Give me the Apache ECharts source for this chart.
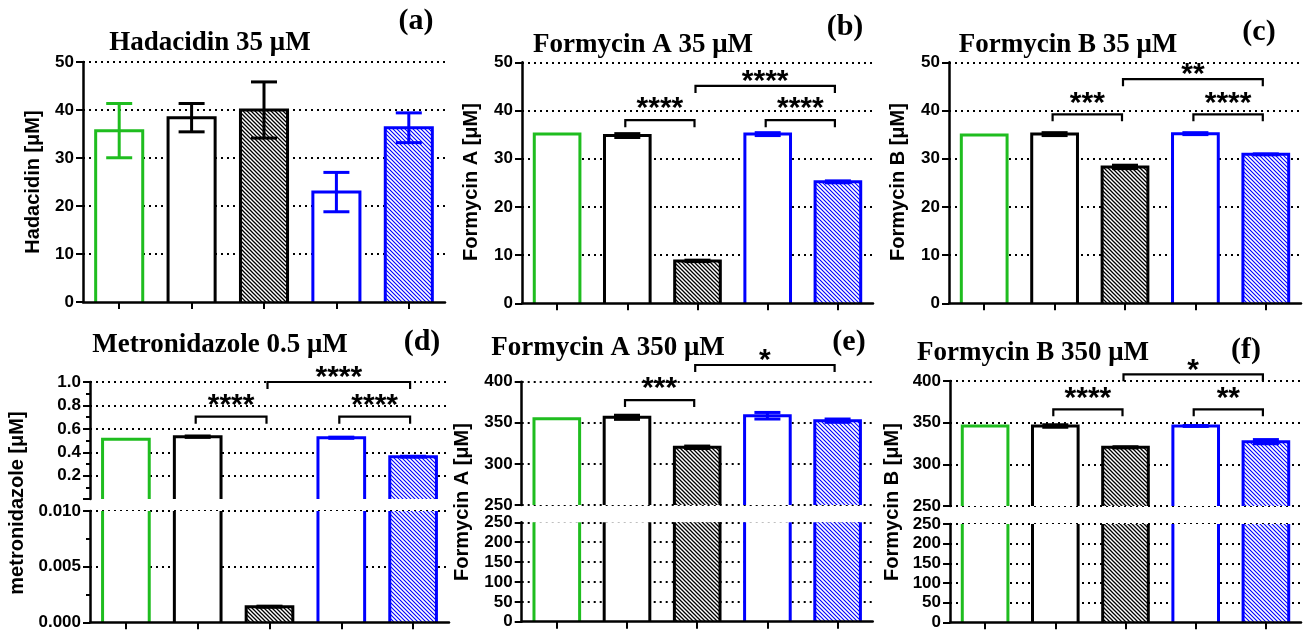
<!DOCTYPE html>
<html><head><meta charset="utf-8">
<script src="https://cdn.jsdelivr.net/npm/echarts@6/dist/echarts.min.js"></script>
<style>html,body{margin:0;padding:0;background:#fff}#c{width:1304px;height:634px}</style>
</head><body><div id="c"></div>
<script>
// ---------- data ----------
const categories = ['1', '2', '3', '4', '5'];

const hadacidinMean = [35.7, 38.4, 40.0, 22.9, 36.3];
const hadacidinSD   = [5.65, 2.95, 5.85, 4.1, 3.1];
const formycinA35Mean = [35.1, 34.8, 8.8, 35.1, 25.2];
const formycinA35SD   = [0, 0.4, 0.15, 0.3, 0.2];
const formycinB35Mean = [34.9, 35.1, 28.3, 35.2, 30.9];
const formycinB35SD   = [0, 0.3, 0.35, 0.2, 0.1];
const metronidazoleMean = [0.511, 0.533, 0.0014, 0.524, 0.362];
const metronidazoleSD   = [0, 0.006, 0.00005, 0.005, 0.004];
const formycinA350Mean = [355.0, 356.7, 320.2, 358.6, 352.6];
const formycinA350SD   = [0, 2.5, 1.5, 4, 2];
const formycinB350Mean = [346.0, 346.0, 320.4, 346.0, 327.2];
const formycinB350SD   = [0, 1.5, 0.7, 0.5, 2.5];

// significance brackets: [fromIndex, toIndex, level, label]
const bracketsA = [];
const bracketsB = [[1, 2, 38.0, '****'], [3, 4, 38.0, '****'], [2, 4, 45.1, '****']];
const bracketsC = [[1, 2, 39.2, '***'], [3, 4, 39.2, '****'], [2, 4, 46.5, '**']];
const bracketsD = [[1, 2, 0.704, '****'], [3, 4, 0.704, '****'], [2, 4, 1.0, '****']];
const bracketsE = [[1, 2, 377.7, '***'], [2, 4, 420.3, '*']];
const bracketsF = [[1, 2, 366, '****'], [3, 4, 366, '**'], [2, 4, 408, '*']];

// axis ranges: [min, max, interval]
const axisA = [0, 50, 10];
const axisB = [0, 50, 10];
const axisC = [0, 50, 10];
const axisDUpper = [0, 1, 0.2];
const axisDLower = [0, 0.01, 0.005];
const axisEUpper = [250, 400, 50];
const axisELower = [0, 250, 50];
const axisFUpper = [250, 400, 50];
const axisFLower = [0, 250, 50];

const titles = ['Hadacidin 35 μM', 'Formycin A 35 μM', 'Formycin B 35 μM',
                'Metronidazole 0.5 μM', 'Formycin A 350 μM', 'Formycin B 350 μM'];
const panelLabels = ['(a)', '(b)', '(c)', '(d)', '(e)', '(f)'];
const yNames = ['Hadacidin [μM]', 'Formycin A [μM]', 'Formycin B [μM]',
                'metronidazole [μM]', 'Formycin A [μM]', 'Formycin B [μM]'];

// ---------- styles ----------
const GREEN = '#1fbd1f', BLACK = '#000000', BLUE = '#0000ff';
const barColors = [GREEN, BLACK, BLACK, BLUE, BLUE];
const hatched = [false, false, true, false, true];

function makeHatch(color, lw) {
  const p = 4, c = document.createElement('canvas');
  c.width = p; c.height = p;
  const g = c.getContext('2d');
  g.fillStyle = '#fff'; g.fillRect(0, 0, p, p);
  g.strokeStyle = color; g.lineWidth = lw;
  g.beginPath();
  g.moveTo(-1, -1); g.lineTo(p + 1, p + 1);
  g.moveTo(-1, p - 1); g.lineTo(1, p + 1);
  g.moveTo(p - 1, -1); g.lineTo(p + 1, 1);
  g.stroke();
  return c;
}
const hatchBlack = {image: makeHatch(BLACK, 1.3), repeat: 'repeat'};
const hatchBlue = {image: makeHatch(BLUE, 1.1), repeat: 'repeat'};

const panels = [
  {mean: hadacidinMean, sd: hadacidinSD, brackets: bracketsA,
   segs: [{rect: [83, 62, 362, 240], range: axisA}]},
  {mean: formycinA35Mean, sd: formycinA35SD, brackets: bracketsB,
   segs: [{rect: [522, 62.3, 351, 241], range: axisB}]},
  {mean: formycinB35Mean, sd: formycinB35SD, brackets: bracketsC,
   segs: [{rect: [949, 62.3, 352, 241], range: axisC}]},
  {mean: metronidazoleMean, sd: metronidazoleSD, brackets: bracketsD,
   segs: [{rect: [90, 382, 359, 117.1], range: axisDUpper, digits: 1, minor: true, hideMin: true},
          {rect: [90, 511, 359, 111.3], range: axisDLower, digits: 3, minor: true}]},
  {mean: formycinA350Mean, sd: formycinA350SD, brackets: bracketsE,
   segs: [{rect: [521.7, 381.7, 351, 123.3], range: axisEUpper, minLine: true},
          {rect: [521.7, 522.3, 351, 99.4], range: axisELower}]},
  {mean: formycinB350Mean, sd: formycinB350SD, brackets: bracketsF,
   segs: [{rect: [950, 381, 351, 125], range: axisFUpper, minLine: true},
          {rect: [950, 524, 351, 98.3], range: axisFLower}]}
];

const textPos = {
  title: [[210, 43], [643, 45], [1068, 45], [220, 345], [608, 348], [1033, 353]],
  label: [[416, 21], [845, 27], [1259, 32], [422, 342], [849, 342], [1246, 350]],
  yname: [[33, 182], [471, 182], [898, 182], [17, 503], [462, 502], [892, 502]]
};

function barRenderer(lo, hi) {
  return function (params, api) {
    const i = api.value(0), v = api.value(1), sd = api.value(2);
    if (lo !== null && v <= lo) return null;
    const cs = params.coordSys;
    const gTop = cs.y, gBot = cs.y + cs.height;
    const p = api.coord([i, v]);
    const cx = p[0], vy = p[1];
    const bw = api.size([1, 0])[0] * 0.65;
    const x0 = cx - bw / 2, x1 = cx + bw / 2;
    const closedTop = vy >= gTop - 0.01;
    const yt = Math.max(vy, gTop);
    const color = barColors[i];
    const fill = hatched[i] ? (color === BLUE ? hatchBlue : hatchBlack) : '#fff';
    const ch = [];
    ch.push({type: 'rect', shape: {x: x0, y: yt, width: bw, height: gBot - yt},
             style: {fill: fill, stroke: null}});
    if (closedTop) {
      ch.push({type: 'polyline', shape: {points: [[x0, gBot], [x0, yt], [x1, yt], [x1, gBot]]},
               style: {stroke: color, lineWidth: 3, fill: 'none', lineJoin: 'miter'}});
    } else {
      ch.push({type: 'line', shape: {x1: x0, y1: gTop, x2: x0, y2: gBot}, style: {stroke: color, lineWidth: 3}});
      ch.push({type: 'line', shape: {x1: x1, y1: gTop, x2: x1, y2: gBot}, style: {stroke: color, lineWidth: 3}});
    }
    if (closedTop && sd > 0 && v <= hi) {
      const yu = api.coord([i, v + sd])[1], yl = api.coord([i, v - sd])[1];
      const cw = 13;
      const st = {stroke: color, lineWidth: 3};
      ch.push({type: 'line', shape: {x1: cx, y1: yu, x2: cx, y2: yl}, style: st});
      ch.push({type: 'line', shape: {x1: cx - cw, y1: yu, x2: cx + cw, y2: yu}, style: st});
      ch.push({type: 'line', shape: {x1: cx - cw, y1: yl, x2: cx + cw, y2: yl}, style: st});
    }
    return {type: 'group', children: ch};
  };
}

function bracketRenderer(list) {
  return function (params, api) {
    const a = api.value(0), b = api.value(1), lvl = api.value(2);
    const p1 = api.coord([a, lvl]), p2 = api.coord([b, lvl]);
    const y = p1[1], x1 = p1[0] - 2, x2 = p2[0] - 3;
    const off = (b - a > 1) ? 10 : 17;
    return {type: 'group', children: [
      {type: 'polyline', shape: {points: [[x1, y + 7], [x1, y], [x2, y], [x2, y + 7]]},
       style: {stroke: '#000', lineWidth: 2.2, fill: 'none'}},
      {type: 'text', x: (x1 + x2) / 2, y: y - off + 6,
       style: {text: list[params.dataIndex][3], font: 'bold 30px "Liberation Sans"', fill: '#000',
               align: 'center', verticalAlign: 'middle'}}
    ]};
  };
}

const grid = [], xAxis = [], yAxis = [], series = [], graphic = [];
let gi = 0;
panels.forEach(function (pn, k) {
  const n = pn.segs.length;
  pn.segs.forEach(function (sg, s) {
    const r = sg.rect;
    grid.push({left: r[0], top: r[1], width: r[2], height: r[3], containLabel: false});
    const isBottom = (s === n - 1);
    xAxis.push({type: 'category', gridIndex: gi, data: categories, boundaryGap: true, show: isBottom, z: 5,
      axisLine: {show: true, onZero: false, lineStyle: {color: '#000', width: 2.5}},
      axisTick: {show: true, alignWithLabel: true, length: 7, lineStyle: {color: '#000', width: 2}},
      axisLabel: {show: false}, splitLine: {show: false}});
    const digits = sg.digits;
    yAxis.push({type: 'value', gridIndex: gi, min: sg.range[0], max: sg.range[1], interval: sg.range[2],
      axisLine: {show: true, lineStyle: {color: '#000', width: 2.5}},
      axisTick: {show: true, length: 7, lineStyle: {color: '#000', width: 2}},
      minorTick: {show: !!sg.minor, splitNumber: 2, length: 4, lineStyle: {color: '#000', width: 2}},
      minorSplitLine: {show: false},
      axisLabel: {show: true, color: '#000', fontSize: 17, fontWeight: 'bold', fontFamily: 'Liberation Sans',
        margin: 9, showMinLabel: !sg.hideMin,
        formatter: digits !== undefined ? function (v) { return v.toFixed(digits); } : function (v) { return String(Math.round(v)); }},
      splitLine: {show: true, showMinLine: !!sg.minLine, showMaxLine: true,
        lineStyle: {color: '#000', width: 2, type: [2, 4]}}});
    const lo = (n === 2 && s === 0) ? pn.segs[1].range[1] : null;
    series.push({type: 'custom', xAxisIndex: gi, yAxisIndex: gi, z: 2, clip: false,
      renderItem: barRenderer(lo, sg.range[1]),
      encode: {x: 0, y: 1},
      data: pn.mean.map(function (m, i) { return [i, m, pn.sd[i]]; })});
    if (s === 0 && pn.brackets.length) {
      series.push({type: 'custom', xAxisIndex: gi, yAxisIndex: gi, z: 4, clip: false,
        renderItem: bracketRenderer(pn.brackets),
        encode: {x: 0, y: 2},
        data: pn.brackets.map(function (b) { return [b[0], b[1], b[2]]; })});
    }
    gi++;
  });
  graphic.push({type: 'text', x: textPos.title[k][0], y: textPos.title[k][1],
    style: {text: titles[k], font: 'bold 27px "Liberation Serif"', fill: '#000', align: 'center', verticalAlign: 'middle'}});
  graphic.push({type: 'text', x: textPos.label[k][0], y: textPos.label[k][1],
    style: {text: panelLabels[k], font: 'bold 30px "Liberation Serif"', fill: '#000', align: 'center', verticalAlign: 'middle'}});
  graphic.push({type: 'text', x: textPos.yname[k][0], y: textPos.yname[k][1], rotation: Math.PI / 2,
    style: {text: yNames[k], font: 'bold 20px "Liberation Sans"', fill: '#000', align: 'center', verticalAlign: 'middle'}});
});

const chart = echarts.init(document.getElementById('c'), null, {renderer: 'canvas'});
chart.setOption({animation: false, backgroundColor: '#fff', grid: grid, xAxis: xAxis, yAxis: yAxis,
  series: series, graphic: graphic});
</script>
</body></html>
